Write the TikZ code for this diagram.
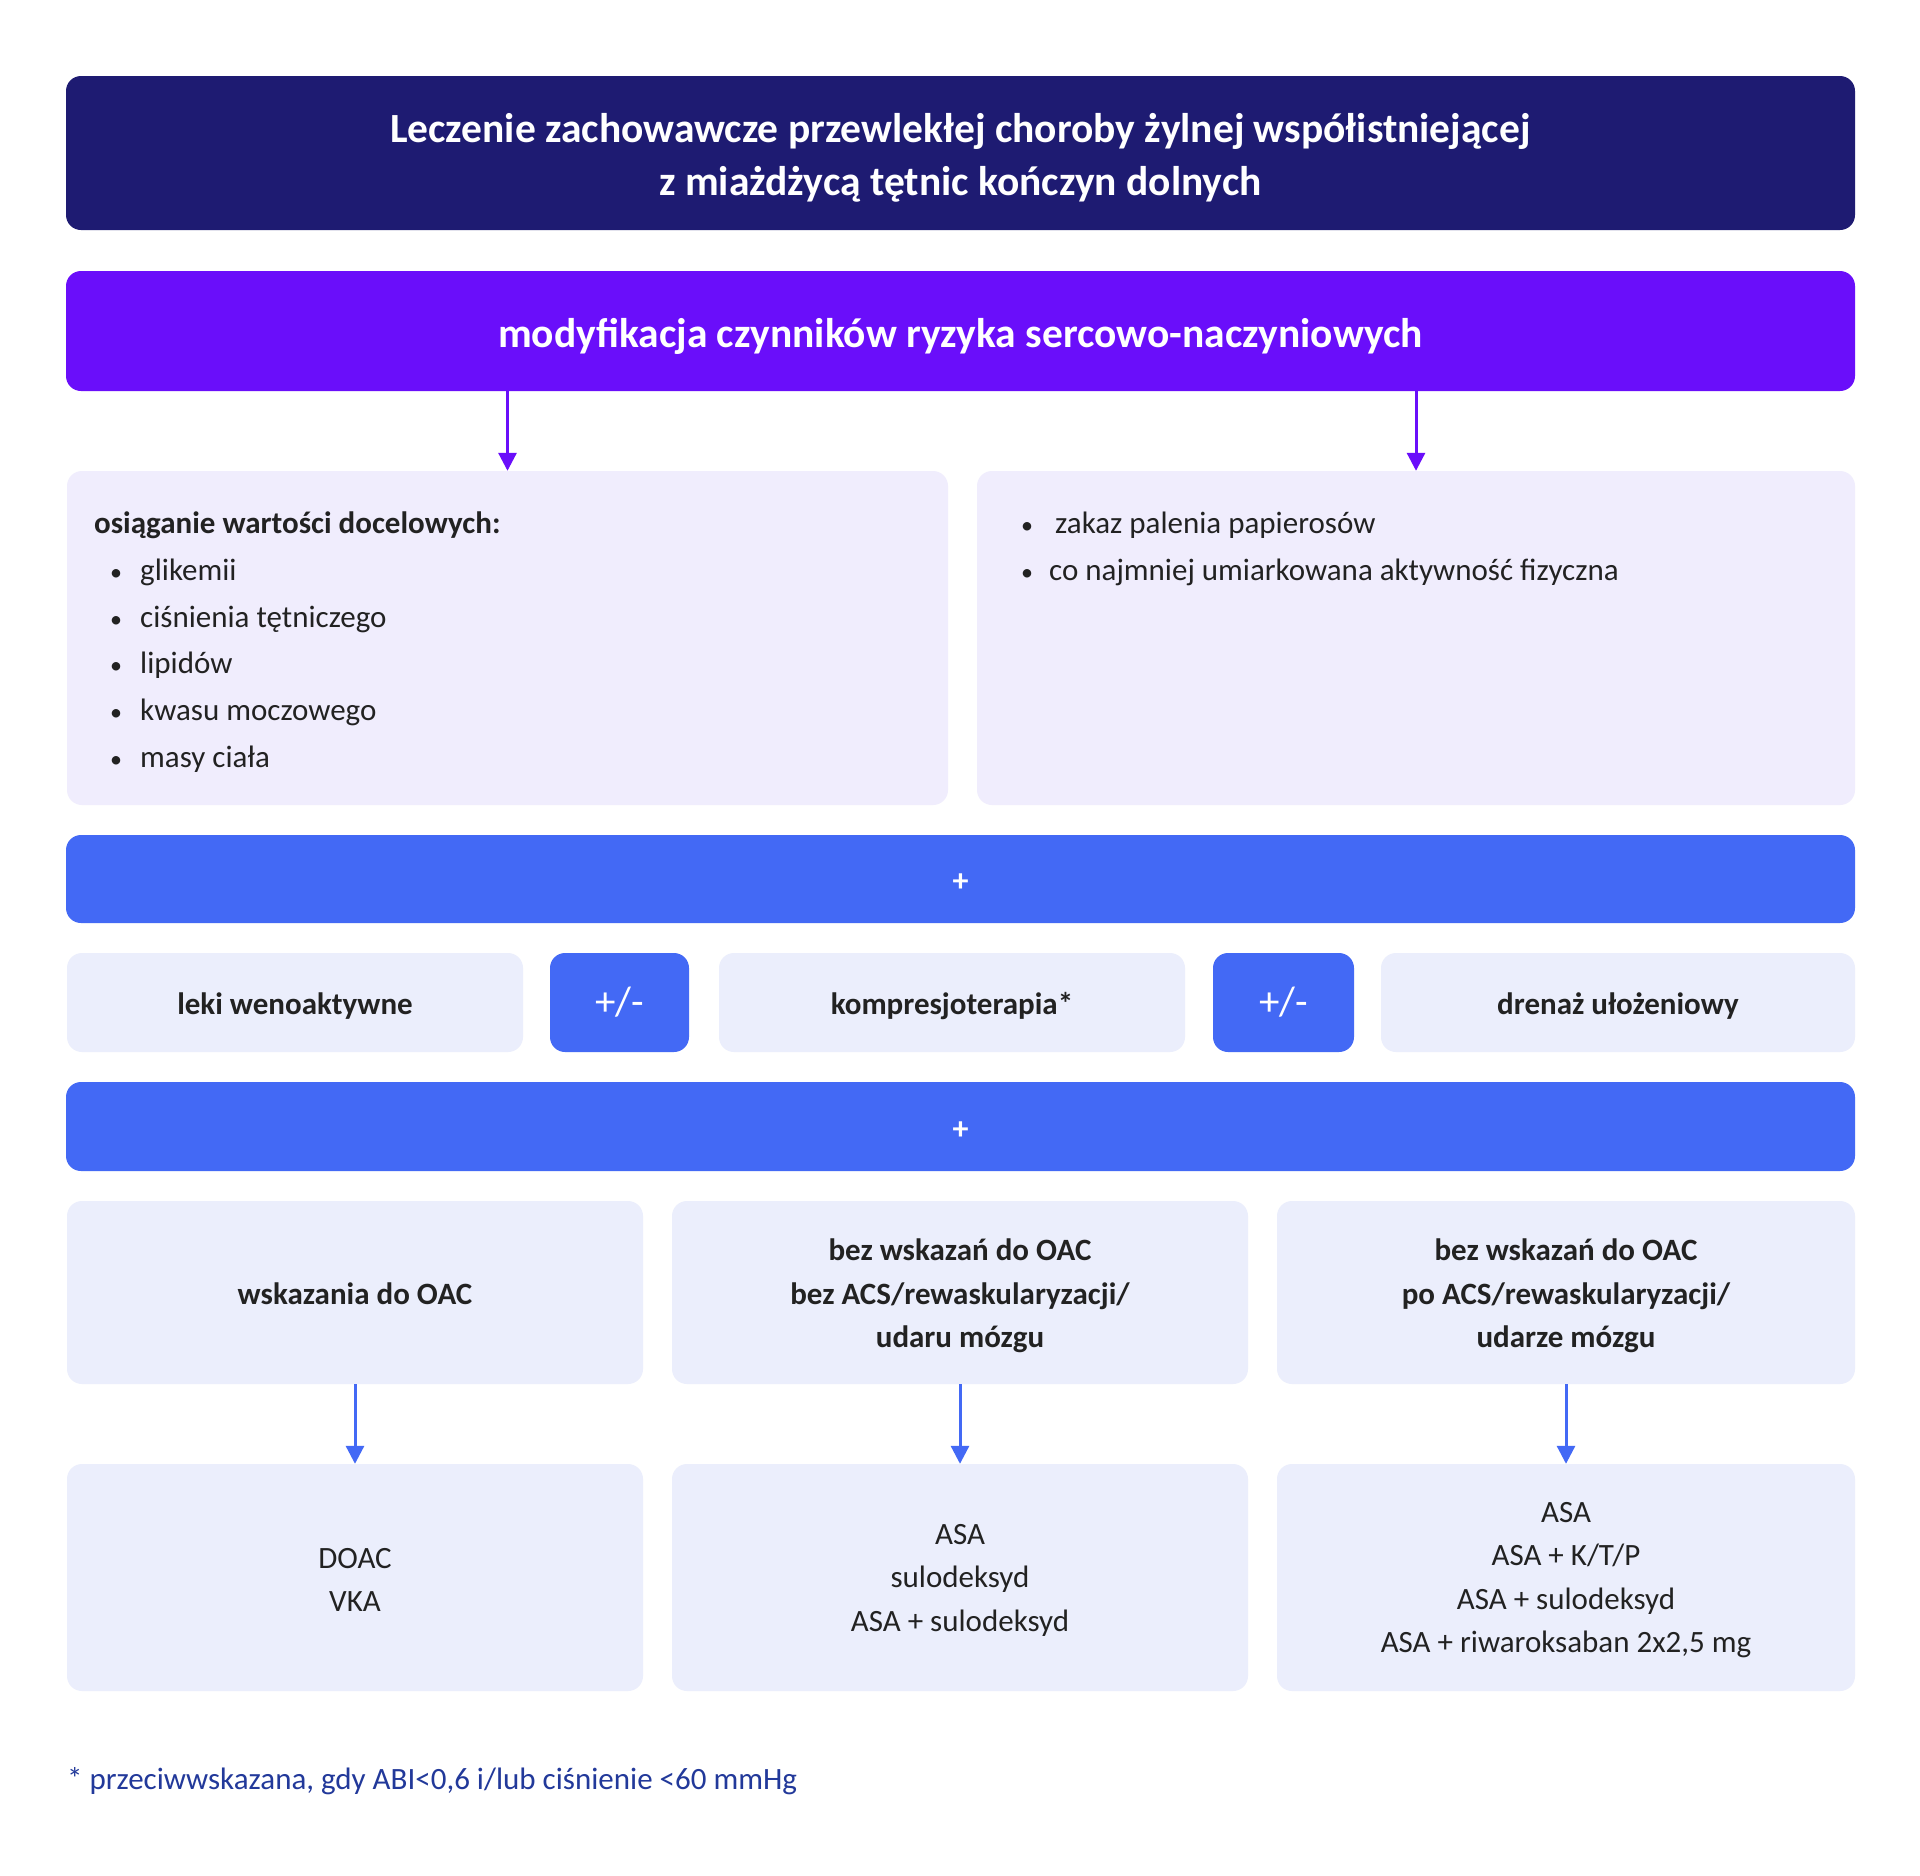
\documentclass[tikz,border=0pt]{standalone}
\usepackage{fontspec}
\setmainfont{Carlito}
\usetikzlibrary{arrows.meta}
\definecolor{navy}{HTML}{1E1B72}
\definecolor{violet}{HTML}{6A0EFA}
\definecolor{lav}{HTML}{F0EDFD}
\definecolor{blu}{HTML}{4369F5}
\definecolor{pale}{HTML}{EBEEFC}
\definecolor{ink}{HTML}{222222}
\definecolor{footblue}{HTML}{22399A}
\tikzset{
  box/.style={rounded corners=15pt, inner sep=0pt, draw=none},
  headbox/.style={box, fill=navy},
  headtext/.style={inner sep=0pt, text=white, font=\fontsize{41.5}{53}\selectfont\bfseries, align=center},
  modbox/.style={box, fill=violet},
  lavbox/.style={box, fill=lav},
  barbox/.style={box, fill=blu},
  bartext/.style={inner sep=0pt, text=white, font=\fontsize{32}{36}\selectfont\bfseries},
  palebox/.style={box, fill=pale},
  boxtext/.style={inner sep=0pt, text=ink, font=\fontsize{31}{43.5}\selectfont, align=center},
  boldtext/.style={boxtext, font=\fontsize{31}{43.5}\selectfont\bfseries},
  pmbox/.style={box, fill=blu, text=white, font=\fontsize{41}{44}\selectfont},
  item/.style={anchor=mid west, inner sep=0pt, text=ink, font=\fontsize{31}{36}\selectfont},
  dot/.style={item, font=\fontsize{24}{36}\selectfont},
  vio/.style={draw=violet, line width=3pt, -{Triangle[length=18pt,width=18pt]}},
  blarrow/.style={draw=blu, line width=3pt, -{Triangle[length=18pt,width=18pt]}},
}
\begin{document}
\begin{tikzpicture}[x=1pt,y=-1pt]
\useasboundingbox (0,0) rectangle (1920,1875);
\fill[white] (0,0) rectangle (1920,1875);
% header
\node[headbox, minimum width=1789pt, minimum height=154pt] (head) at (960.5,153) {};
\node[headtext, yshift=-5pt] (headtxt) at (head.center)
  {Leczenie zachowawcze przewlekłej choroby żylnej współistniejącej\\z miażdżycą tętnic kończyn dolnych};
\node[modbox, minimum width=1789pt, minimum height=120pt] (mod) at (960.5,331) {};
\node[headtext, yshift=-5pt] (modtxt) at (mod.center)
  {modyfikacja czynników ryzyka sercowo-naczyniowych};
% lavender boxes
\node[lavbox, minimum width=881pt, minimum height=334pt] (lbox) at (507.5,638) {};
\node[lavbox, minimum width=878pt, minimum height=334pt] (rbox) at (1416,638) {};
\draw[vio] (mod.south -| lbox.north) -- (lbox.north);
\draw[vio] (mod.south -| rbox.north) -- (rbox.north);
% left box text
\node[item, font=\fontsize{31}{36}\selectfont\bfseries] (lt) at (94,531) {osiąganie wartości docelowych:};
\node[dot] (lb1) at (110,578) {•};
\node[item] (l1) at (140,578) {glikemii};
\node[dot] (lb2) at (110,625) {•};
\node[item] (l2) at (140,625) {ciśnienia tętniczego};
\node[dot] (lb3) at (110,671) {•};
\node[item] (l3) at (140,671) {lipidów};
\node[dot] (lb4) at (110,718) {•};
\node[item] (l4) at (140,718) {kwasu moczowego};
\node[dot] (lb5) at (110,765) {•};
\node[item] (l5) at (140,765) {masy ciała};
% right box text
\node[dot] (rb1) at (1021,531) {•};
\node[item] (r1) at (1055,531) {zakaz palenia papierosów};
\node[dot] (rb2) at (1021,578) {•};
\node[item] (r2) at (1049,578) {co najmniej umiarkowana aktywność fizyczna};
% plus bars
\node[barbox, minimum width=1789pt, minimum height=88pt] (bar1) at (960.5,879) {};
\node[bartext, yshift=-4pt] (bar1txt) at (bar1.center) {+};
% treatment row
\node[palebox, minimum width=456pt, minimum height=99pt] (leki) at (295,1002.5) {};
\node[boldtext, yshift=-4pt] (lekitxt) at (leki.center) {leki wenoaktywne};
\node[pmbox, minimum width=139pt, minimum height=99pt] (pm1) at (619.5,1002.5) {+/-};
\node[palebox, minimum width=466pt, minimum height=99pt] (komp) at (952,1002.5) {};
\node[boldtext, yshift=-4pt] (komptxt) at (komp.center) {kompresjoterapia*};
\node[pmbox, minimum width=141pt, minimum height=99pt] (pm2) at (1283.5,1002.5) {+/-};
\node[palebox, minimum width=474pt, minimum height=99pt] (dren) at (1618,1002.5) {};
\node[boldtext, yshift=-4pt] (drentxt) at (dren.center) {drenaż ułożeniowy};
\node[barbox, minimum width=1789pt, minimum height=89pt] (bar2) at (960.5,1126.5) {};
\node[bartext, yshift=-4pt] (bar2txt) at (bar2.center) {+};
% condition boxes
\node[palebox, minimum width=576pt, minimum height=183pt] (c1) at (355,1292.5) {};
\node[boldtext, yshift=-1pt] (c1txt) at (c1.center) {wskazania do OAC};
\node[palebox, minimum width=576pt, minimum height=183pt] (c2) at (960,1292.5) {};
\node[boldtext, yshift=-3.5pt] (c2txt) at (c2.center)
  {bez wskazań do OAC\\bez ACS/rewaskularyzacji/\\udaru mózgu};
\node[palebox, minimum width=578pt, minimum height=183pt] (c3) at (1566,1292.5) {};
\node[boldtext, yshift=-3.5pt] (c3txt) at (c3.center)
  {bez wskazań do OAC\\po ACS/rewaskularyzacji/\\udarze mózgu};
% result boxes
\node[palebox, minimum width=576pt, minimum height=227pt] (res1) at (355,1577.5) {};
\node[boxtext, yshift=-2.5pt] (res1txt) at (res1.center) {DOAC\\VKA};
\node[palebox, minimum width=576pt, minimum height=227pt] (res2) at (960,1577.5) {};
\node[boxtext, yshift=-2.5pt] (res2txt) at (res2.center) {ASA\\sulodeksyd\\ASA + sulodeksyd};
\node[palebox, minimum width=578pt, minimum height=227pt] (res3) at (1566,1577.5) {};
\node[boxtext, yshift=-2.5pt] (res3txt) at (res3.center)
  {ASA\\ASA + K/T/P\\ASA + sulodeksyd\\ASA + riwaroksaban 2x2,5 mg};
\draw[blarrow] (c1.south) -- (res1.north);
\draw[blarrow] (c2.south) -- (res2.north);
\draw[blarrow] (c3.south) -- (res3.north);
% footnote
\node[item, text=footblue] (foot) at (67,1787) {* przeciwwskazana, gdy ABI<0,6 i/lub ciśnienie <60 mmHg};
\end{tikzpicture}
\end{document}
